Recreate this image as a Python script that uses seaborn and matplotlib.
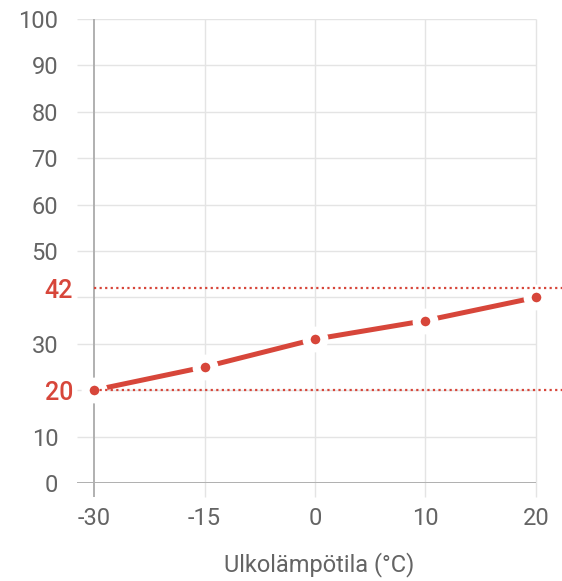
import matplotlib
matplotlib.use("Agg")
import matplotlib.pyplot as plt
import matplotlib.transforms as mtransforms
import seaborn as sns
import pandas as pd
import numpy as np

# data
outdoor_temps = ["-30", "-15", "0", "10", "20"]
supply_temps = [20, 25, 31, 35, 40]
limit_max = 42
limit_min = 20
y_ticks = [0, 10, 20, 30, 40, 50, 60, 70, 80, 90, 100]
y_labels = ["0", "10", "", "30", "", "50", "60", "70", "80", "90", "100"]
x_label = "Ulkolämpötila (°C)"

RED = "#d7463a"
GRAY_TXT = "#646464"
GRID = "#e4e4e4"
AXIS = "#b0b0b0"

sns.set_style("white")
plt.rcParams["font.family"] = ["Roboto", "DejaVu Sans"]

W, H = 562, 581
fig = plt.figure(figsize=(W / 100, H / 100), dpi=100)
ax_left_px, ax_right_px = 77, 562
y0_px, y100_px = 483, 19
ax = fig.add_axes([ax_left_px / W, (H - y0_px) / H, (ax_right_px - ax_left_px) / W, (y0_px - y100_px) / H])

MS, MEW = 12.8, 5.8
df = pd.DataFrame({"x": outdoor_temps, "y": supply_temps})
sns.pointplot(data=df, x="x", y="y", order=outdoor_temps, color=RED, errorbar=None,
              markers="o", linestyles="-", ax=ax,
              linewidth=3.6, markersize=MS, markeredgewidth=MEW,
              markeredgecolor="white", markerfacecolor=RED, zorder=3)
for ln in ax.lines:
    ln.set_markeredgecolor("white")
    ln.set_markerfacecolor(RED)
    ln.set_markersize(MS)
    ln.set_markeredgewidth(MEW)
    ln.set_linewidth(3.6)
    ln.set_solid_capstyle("butt")

unit = (536 - 94) / 4
xl = -(94 - ax_left_px) / unit
xr = 4 + (ax_right_px - 536) / unit
ax.set_xlim(xl, xr)
ax.set_ylim(0, 100)

# grid
ax.hlines(y_ticks, xl, 4, color=GRID, lw=1.0, zorder=0)
ax.vlines(range(1, 5), -3.0, 100, color=GRID, lw=1.0, zorder=0, clip_on=False)
ax.vlines([0], -3.0, 100, color=AXIS, lw=1.4, zorder=1, clip_on=False)
ax.hlines([0], xl, 4, color=AXIS, lw=1.4, zorder=1)

# limit lines
for v in (limit_max, limit_min):
    ax.plot([0, xr], [v, v], color=RED, lw=1.6, linestyle=(0, (1, 1.5)), zorder=4,
            dash_capstyle="butt")

for s in ax.spines.values():
    s.set_visible(False)

ax.set_yticks(y_ticks)
ax.set_yticklabels(y_labels)
ax.set_xticks(range(len(outdoor_temps)))
ax.set_xticklabels(outdoor_temps)
ax.tick_params(axis="y", length=0, pad=13.5, labelsize=17, labelcolor=GRAY_TXT)
ax.tick_params(axis="x", length=0, pad=17, labelsize=17, labelcolor=GRAY_TXT)
ax.set_xlabel(x_label, fontsize=17, color=GRAY_TXT, labelpad=16)
ax.set_ylabel("")
ax.grid(False)

off = mtransforms.offset_copy(ax.get_yaxis_transform(), fig=fig, x=-4, y=-2.5, units="dots")
for v in (limit_max, limit_min):
    ax.text(0, v, str(v), transform=off, ha="right", va="center", fontsize=18,
            color=RED, fontweight="medium")

fig.savefig("out.png", dpi=100)
